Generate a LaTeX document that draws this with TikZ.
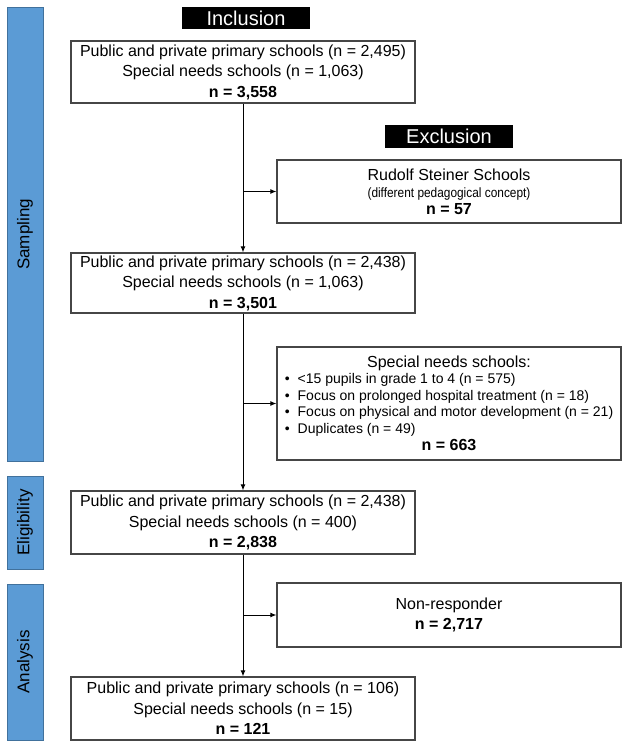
\documentclass[tikz,border=0pt]{standalone}
\usepackage{fontspec}
\setmainfont{Liberation Sans}
\usetikzlibrary{arrows.meta}

\definecolor{barblue}{RGB}{91,155,213}
\definecolor{barline}{RGB}{65,113,156}
\definecolor{boxline}{RGB}{70,70,70}

\tikzset{
  phase/.style={draw=barline, fill=barblue, line width=1pt, rotate=90,
    minimum height=36pt, inner sep=0pt, font=\fontsize{17}{19}\selectfont},
  flowbox/.style={draw=boxline, line width=1.2pt, minimum width=344pt,
    align=center, inner sep=0pt, font=\fontsize{16}{20.5}\selectfont},
  tag/.style={fill=black, text=white, minimum width=128pt, minimum height=22pt,
    inner sep=0pt, font=\fontsize{20}{22}\selectfont},
  flow/.style={line width=1pt, -{Latex[length=6pt,width=5pt]}}
}

\begin{document}
\begin{tikzpicture}[x=1pt, y=-1pt]
    \useasboundingbox (0,0) rectangle (624,749);

    % Phase bars
    \node[phase, minimum width=453pt] (sampling) at (25,234.5) {Sampling};
    \node[phase, minimum width=93pt] (eligibility) at (25,522.5) {Eligibility};
    \node[phase, minimum width=156pt] (analysis) at (25,662) {Analysis};

    % Headers
    \node[tag] (inclusion) at (246,18) {Inclusion};
    \node[tag, minimum height=23pt] (exclusion) at (449,136.5) {Exclusion};

    % Main flow
    \node[flowbox, minimum height=62pt] (start) at (243,72)
      {Public and private primary schools (n = 2,495)\\
       Special needs schools (n = 1,063)\\
       \textbf{n = 3,558}};
    \node[flowbox, minimum height=60pt] (sampled) at (243,283)
      {Public and private primary schools (n = 2,438)\\
       Special needs schools (n = 1,063)\\
       \textbf{n = 3,501}};
    \node[flowbox, minimum height=63pt] (eligible) at (243,522.5)
      {Public and private primary schools (n = 2,438)\\
       Special needs schools (n = 400)\\
       \textbf{n = 2,838}};
    \node[flowbox, minimum height=63pt] (final) at (243,708.5)
      {Public and private primary schools (n = 106)\\
       Special needs schools (n = 15)\\
       \textbf{n = 121}};

    % Exclusions
    \node[flowbox, minimum height=63pt, font=\fontsize{16}{17}\selectfont] (steiner) at (449,191.5)
      {Rudolf Steiner Schools\\
       \scalebox{0.88}[1]{\fontsize{13.5}{16}\selectfont (different pedagogical concept)}\\
       \textbf{n = 57}};
    \node[flowbox, minimum height=113pt, font=\fontsize{16}{17}\selectfont] (special) at (449,403.5)
      {Special needs schools:\\
       {\fontsize{14}{16.5}\selectfont
       \begin{tabular}{@{}l@{\hspace{8pt}}l@{}}
         • & <15 pupils in grade 1 to 4 (n = 575)\\
         • & Focus on prolonged hospital treatment (n = 18)\\
         • & Focus on physical and motor development (n = 21)\\
         • & Duplicates (n = 49)
       \end{tabular}}\\
       \textbf{n = 663}};
    \node[flowbox, minimum height=64pt] (nonresp) at (449,615)
      {Non-responder\\
       \textbf{n = 2,717}};

    % Arrows
    \draw[flow] (start) -- (sampled);
    \draw[flow] (sampled) -- (eligible);
    \draw[flow] (eligible) -- (final);
    \draw[flow] (start.south |- steiner.west) -- (steiner.west);
    \draw[flow] (sampled.south |- special.west) -- (special.west);
    \draw[flow] (eligible.south |- nonresp.west) -- (nonresp.west);
\end{tikzpicture}
\end{document}
